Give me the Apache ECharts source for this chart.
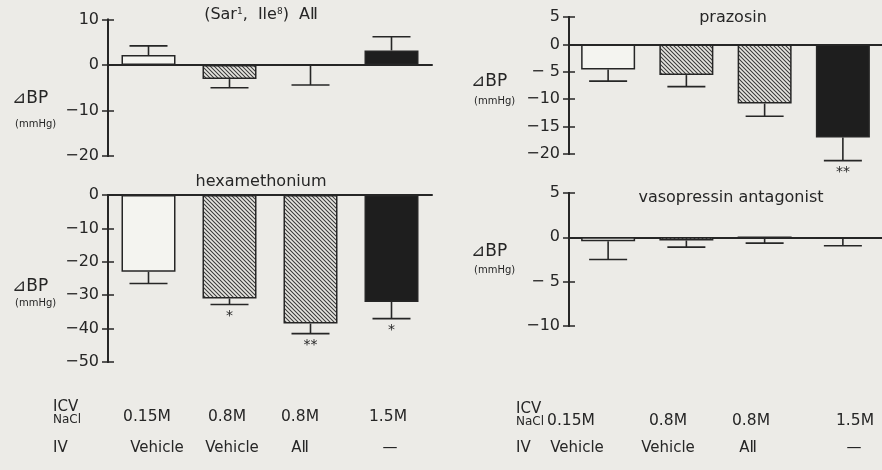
<!DOCTYPE html>
<html><head><meta charset="utf-8">
<script src="https://cdn.jsdelivr.net/npm/echarts@6/dist/echarts.min.js"></script>
<style>html,body{margin:0;padding:0;background:#ecebe7}#c{width:882px;height:470px}</style>
</head><body><div id="c"></div>
<script>
// ---------- data ----------
const categories = ['0.15M / Vehicle', '0.8M / Vehicle', '0.8M / AⅡ', '1.5M / —'];
const icvLabels = ['0.15M', '0.8M', '0.8M', '1.5M'];
const ivLabels = ['Vehicle', 'Vehicle', 'AⅡ', '—'];

const sarMean = [2.2, -3.1, 0, 3.2];
const sarSem  = [2.0, 1.9, 4.4, 3.0];
const sarSig  = ['', '', '', ''];

const prazMean = [-4.6, -5.6, -10.8, -17.0];
const prazSem  = [2.1, 2.1, 2.3, 4.2];
const prazSig  = ['', '', '', '**'];

const hexMean = [-23, -31, -38.5, -32];
const hexSem  = [3.5, 1.8, 3.0, 5.0];
const hexSig  = ['', '*', '**', '*'];

const vasoMean = [-0.45, -0.35, 0, -0.15];
const vasoSem  = [2.05, 0.75, 0.65, 0.8];
const vasoSig  = ['', '', '', ''];

const sarTicks = [10, 0, -10, -20];
const sarTickLabels = ['10', '0', '−10', '−20'];
const prazTicks = [5, 0, -5, -10, -15, -20];
const prazTickLabels = ['5', '0', '− 5', '−10', '−15', '−20'];
const hexTicks = [0, -10, -20, -30, -40, -50];
const hexTickLabels = ['0', '−10', '−20', '−30', '−40', '−50'];
const vasoTicks = [5, 0, -5, -10];
const vasoTickLabels = ['5', '0', '− 5', '−10'];

// ---------- styles ----------
const INK = '#262626';
const FONT = '"DejaVu Sans", "Noto Sans CJK JP", sans-serif';

function hatchCanvas() {
  const c = document.createElement('canvas');
  c.width = 4; c.height = 4;
  const x = c.getContext('2d');
  x.fillStyle = '#e6e5e0'; x.fillRect(0, 0, 4, 4);
  x.strokeStyle = '#3a3a3a'; x.lineWidth = 1.05;
  x.beginPath();
  x.moveTo(-1, -1); x.lineTo(5, 5);
  x.moveTo(3, -1); x.lineTo(5, 1);
  x.moveTo(-1, 3); x.lineTo(1, 5);
  x.stroke();
  return c;
}
const hatch = hatchCanvas();
const barFills = ['#f4f4f0', {image: hatch, repeat: 'repeat'}, {image: hatch, repeat: 'repeat'}, '#1e1e1e'];

const panels = [
  {mean: sarMean, sem: sarSem, sig: sarSig, ticks: sarTicks, labels: sarTickLabels, min: -20, max: 10, interval: 10,
   grid: {left: 108, top: 19.5, width: 324, height: 136.5}},
  {mean: prazMean, sem: prazSem, sig: prazSig, ticks: prazTicks, labels: prazTickLabels, min: -20, max: 5, interval: 5,
   grid: {left: 569, top: 17, width: 324, height: 137}},
  {mean: hexMean, sem: hexSem, sig: hexSig, ticks: hexTicks, labels: hexTickLabels, min: -50, max: 0, interval: 10,
   grid: {left: 108, top: 195, width: 324, height: 167}},
  {mean: vasoMean, sem: vasoSem, sig: vasoSig, ticks: vasoTicks, labels: vasoTickLabels, min: -10, max: 5, interval: 5,
   grid: {left: 569, top: 193, width: 324, height: 133}}
];

const grid = [], xAxis = [], yAxis = [], series = [];
panels.forEach((p, g) => {
  grid.push(Object.assign({containLabel: false}, p.grid));
  xAxis.push({
    type: 'category', gridIndex: g, data: categories,
    axisLine: {onZero: true, lineStyle: {color: INK, width: 2}},
    axisTick: {show: false}, axisLabel: {show: false}, splitLine: {show: false}
  });
  const base = {type: 'value', gridIndex: g, min: p.min, max: p.max, interval: p.interval, position: 'left',
    splitLine: {show: false}, axisLine: {show: true, lineStyle: {color: INK, width: 2}}};
  yAxis.push(Object.assign({}, base, {
    axisTick: {show: true, length: 6, lineStyle: {color: INK, width: 1.5}},
    axisLabel: {show: true, margin: 9, color: INK, fontSize: 16, fontFamily: FONT,
      formatter: v => { const k = p.ticks.indexOf(v); return k >= 0 ? p.labels[k] : ''; }}
  }));
  yAxis.push(Object.assign({}, base, {
    axisTick: {show: true, inside: true, length: 6, lineStyle: {color: INK, width: 1.5}},
    axisLabel: {show: false}
  }));
  series.push({
    type: 'bar', xAxisIndex: g, yAxisIndex: 2 * g, barWidth: 54, z: 2,
    data: p.mean.map((m, i) => ({value: m, itemStyle: {color: barFills[i], borderColor: INK, borderWidth: 1.5}})),
    animation: false
  });
  series.push({
    type: 'custom', xAxisIndex: g, yAxisIndex: 2 * g, z: 3, animation: false,
    data: p.mean.map((m, i) => [i, m, p.sem[i]]),
    renderItem: (params, api) => {
      const i = api.value(0), m = api.value(1), s = api.value(2);
      const dir = m > 0 ? 1 : -1;
      const a = api.coord([i, m]);
      const b = api.coord([i, m + dir * s]);
      const children = [
        {type: 'line', shape: {x1: a[0], y1: a[1], x2: b[0], y2: b[1]}, style: {stroke: INK, lineWidth: 1.6}},
        {type: 'line', shape: {x1: b[0] - 19, y1: b[1], x2: b[0] + 19, y2: b[1]}, style: {stroke: INK, lineWidth: 1.6}}
      ];
      const sg = p.sig[params.dataIndex];
      if (sg) children.push({type: 'text', x: b[0], y: b[1] + 5,
        style: {text: sg, fill: INK, fontSize: 14, fontFamily: FONT, align: 'center', verticalAlign: 'top'}});
      return {type: 'group', children};
    }
  });
});

// ---------- texts ----------
const T = (text, x, y, size, align, extra) => Object.assign({type: 'text', x, y,
  style: {text, fill: INK, fontSize: size, fontFamily: FONT, align: align || 'center', verticalAlign: 'middle'}}, extra || {});

const graphic = [
  {type: 'text', x: 261, y: 15, style: {
    text: '{a|(Sar}{s|1}{a|,  Ile}{s|8}{a|)  AⅡ}', align: 'center', verticalAlign: 'middle',
    rich: {a: {fontSize: 16, fontFamily: FONT, fill: INK}, s: {fontSize: 9, fontFamily: FONT, fill: INK, verticalAlign: 'top'}}}},
  T('prazosin', 733, 18, 16),
  T('hexamethonium', 261, 182, 16),
  T('vasopressin antagonist', 731, 198, 16),
  T('⊿BP', 12, 99, 17, 'left'), T('(mmHg)', 15, 124, 10, 'left'),
  T('⊿BP', 471, 82, 17, 'left'), T('(mmHg)', 474, 101, 10, 'left'),
  T('⊿BP', 12, 287, 17, 'left'), T('(mmHg)', 15, 303, 10, 'left'),
  T('⊿BP', 471, 252, 17, 'left'), T('(mmHg)', 474, 270, 10, 'left'),
  T('ICV', 53, 407, 15, 'left'), T('NaCl', 53, 420, 12, 'left'), T('IV', 53, 448, 15, 'left'),
  T('ICV', 516, 409, 15, 'left'), T('NaCl', 516, 422, 12, 'left'), T('IV', 516, 448, 15, 'left')
];
const leftIcvX = [147, 227, 300, 388], leftIvX = [157, 232, 300, 390];
const rightIcvX = [571, 668, 751, 855], rightIvX = [577, 668, 748, 854];
icvLabels.forEach((t, i) => { graphic.push(T(t, leftIcvX[i], 417, 15.5)); graphic.push(T(t, rightIcvX[i], 421, 15.5)); });
ivLabels.forEach((t, i) => { graphic.push(T(t, leftIvX[i], 448, 15)); graphic.push(T(t, rightIvX[i], 448, 15)); });

const chart = echarts.init(document.getElementById('c'), null, {renderer: 'canvas'});
chart.setOption({backgroundColor: '#ecebe7', animation: false, grid, xAxis, yAxis, series, graphic});
</script></body></html>
